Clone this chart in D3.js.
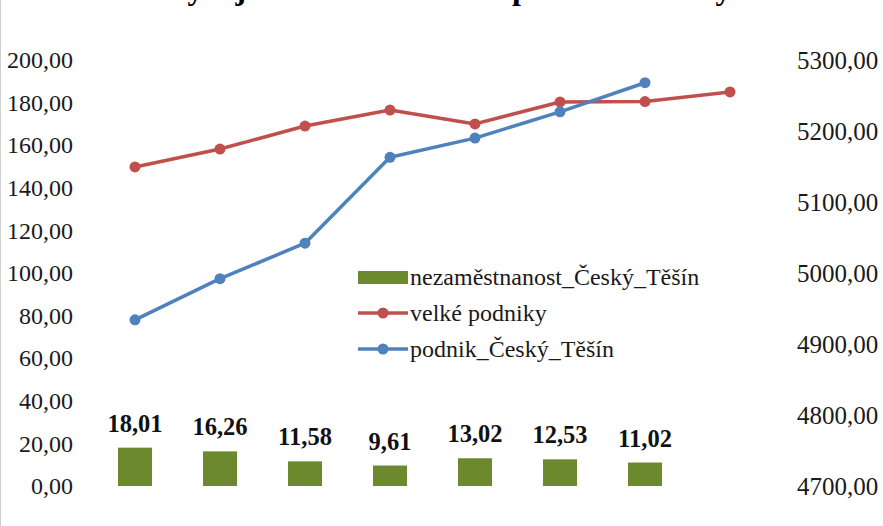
<!DOCTYPE html>
<html>
<head>
<meta charset="utf-8">
<script src="https://cdn.jsdelivr.net/npm/d3@7"></script>
<style>
body { margin: 0; background: #fff; }
svg { display: block; }
text { font-family: "Liberation Serif", "Times New Roman", serif; }
</style>
</head>
<body>
<svg id="chart" width="883" height="526"></svg>
<script>
'use strict'

// eight periods, no labels shown on the x axis
const periods = [1, 2, 3, 4, 5, 6, 7, 8]
const unemployment = [18.01, 16.26, 11.58, 9.61, 13.02, 12.53, 11.02]
const bigFirms = [149.8, 158.2, 169.0, 176.5, 170.0, 180.3, 180.5, 185.0]
const firmsCT = [4934, 4992, 5042, 5163, 5190, 5227, 5268]
const leftTicks = [0, 20, 40, 60, 80, 100, 120, 140, 160, 180, 200]
const rightTicks = [4700, 4800, 4900, 5000, 5100, 5200, 5300]
const seriesNames = ['nezaměstnanost_Český_Těšín', 'velké podniky', 'podnik_Český_Těšín']
const titleText = 'Vývoj nezaměstnanosti a průměrné mzdy'

const green = '#6D892E'
const red = '#C0504D'
const blue = '#4F81BD'

const cz = d3.formatLocale({decimal: ',', thousands: '', grouping: [3], currency: ['', '']})
const fmt = cz.format('.2f')

const svg = d3.select('#chart')

// image border on the left
svg.append('line')
    .attr('x1', 0.5).attr('x2', 0.5)
    .attr('y1', 0).attr('y2', 526)
    .attr('stroke', '#d0d0d0')

// title: in the source it sits above the frame, only the descenders show
svg.append('text')
    .attr('x', 448)
    .attr('y', -1)
    .attr('text-anchor', 'middle')
    .attr('font-size', 32)
    .attr('font-weight', 'bold')
    .text(titleText)

const x = d3.scaleBand()
    .domain(periods)
    .range([92.5, 772.5])
const yLeft = d3.scaleLinear().domain([0, 200]).range([486, 60])
const yRight = d3.scaleLinear().domain([4700, 5300]).range([486, 60])
const cx = function (i) {
    return x(periods[i]) + x.bandwidth() / 2
}

function styleAxis(g, size) {
    g.select('.domain').remove()
    g.selectAll('text')
        .attr('font-size', size)
        .attr('fill', '#1a1a1a')
        .style('font-family', '"Liberation Serif", "Times New Roman", serif')
}

svg.append('g')
    .attr('transform', 'translate(76,0)')
    .call(d3.axisLeft(yLeft).tickValues(leftTicks).tickSize(0).tickPadding(3).tickFormat(fmt))
    .call(styleAxis, 24)

svg.append('g')
    .attr('transform', 'translate(794,0)')
    .call(d3.axisRight(yRight).tickValues(rightTicks).tickSize(0).tickPadding(3).tickFormat(fmt))
    .call(styleAxis, 25)

// bars
const barW = 34
svg.append('g').selectAll('rect')
    .data(unemployment)
    .enter()
    .append('rect')
    .attr('x', function (d, i) { return cx(i) - barW / 2 })
    .attr('y', function (d) { return yLeft(d) })
    .attr('width', barW)
    .attr('height', function (d) { return yLeft(0) - yLeft(d) })
    .attr('fill', green)

svg.append('g').selectAll('text')
    .data(unemployment)
    .enter()
    .append('text')
    .attr('x', function (d, i) { return cx(i) })
    .attr('y', function (d) { return yLeft(d) - 16 })
    .attr('text-anchor', 'middle')
    .attr('font-size', 24.5)
    .attr('font-weight', 'bold')
    .attr('fill', '#111')
    .text(function (d) { return fmt(d) })

function drawLine(values, scale, color) {
    const line = d3.line()
        .x(function (d, i) { return cx(i) })
        .y(function (d) { return scale(d) })
    const g = svg.append('g')
    g.append('path')
        .datum(values)
        .attr('d', line)
        .attr('fill', 'none')
        .attr('stroke', color)
        .attr('stroke-width', 3.5)
        .attr('stroke-linejoin', 'round')
    g.selectAll('circle')
        .data(values)
        .enter()
        .append('circle')
        .attr('cx', function (d, i) { return cx(i) })
        .attr('cy', function (d) { return scale(d) })
        .attr('r', 5.5)
        .attr('fill', color)
}

drawLine(bigFirms, yLeft, red)
drawLine(firmsCT, yRight, blue)

// legend
const legend = svg.append('g').attr('transform', 'translate(358,0)')
const rowY = [277, 313, 349]
const legendColors = [green, red, blue]
seriesNames.forEach(function (name, i) {
    const row = legend.append('g').attr('transform', 'translate(0,' + rowY[i] + ')')
    if (i === 0) {
        row.append('rect')
            .attr('x', 0).attr('y', -6)
            .attr('width', 50).attr('height', 13)
            .attr('fill', legendColors[i])
    } else {
        row.append('line')
            .attr('x1', 0).attr('x2', 50)
            .attr('stroke', legendColors[i])
            .attr('stroke-width', 3.5)
        row.append('circle')
            .attr('cx', 25).attr('r', 5.5)
            .attr('fill', legendColors[i])
    }
    row.append('text')
        .attr('x', 52)
        .attr('dy', '0.32em')
        .attr('font-size', 24)
        .attr('fill', '#1a1a1a')
        .text(name)
})
</script>
</body>
</html>
